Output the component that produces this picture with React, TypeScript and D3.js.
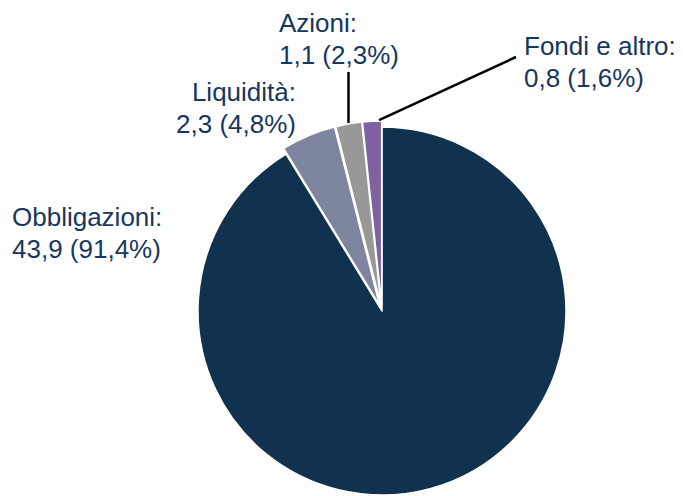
import React from 'react';
import * as d3 from 'd3';

// asset split, values in bn, shares in %
const names = ['Obbligazioni', 'Liquidità', 'Azioni', 'Fondi e altro'];
const values = [43.9, 2.3, 1.1, 0.8];
const shares = [91.4, 4.8, 2.3, 1.6];
const colors = ['#11324f', '#7e859f', '#989898', '#7f62a0'];

const W = 683;
const H = 496;
const cx = 382;
const cy = 311;
const R = 184;
const pull = 6; // small slices are pulled out a bit

const fmt = (v: number) => v.toFixed(1).replace('.', ',');

// where each label sits and how it is anchored
const labelPos = [
  { x: 12, y: 226, anchor: 'start' },
  { x: 296, y: 101, anchor: 'end' },
  { x: 279, y: 32, anchor: 'start' },
  { x: 524, y: 55, anchor: 'start' },
];

export default function App() {
  const pie = d3.pie<number>().sort(null).value(d => d);
  const arcs = pie(values);
  const arc = d3.arc<d3.PieArcDatum<number>>().innerRadius(0).outerRadius(R);

  const offset = (a: d3.PieArcDatum<number>, i: number) => {
    if (i === 0) return [0, 0];
    const m = (a.startAngle + a.endAngle) / 2;
    return [pull * Math.sin(m), -pull * Math.cos(m)];
  };

  const polar = (ang: number, r: number) => [cx + r * Math.sin(ang), cy - r * Math.cos(ang)];

  // leader lines for the two thin slices
  const az = arcs[2];
  const azStart = polar((az.startAngle + az.endAngle) / 2, R + pull + 1);
  const fo = arcs[3];
  const foStart = polar(fo.startAngle + 0.85 * (fo.endAngle - fo.startAngle), R + pull + 1);

  return (
    <svg width={W} height={H} style={{ position: 'absolute', left: 0, top: 0 }}
      fontFamily="'Liberation Sans', Arial, sans-serif">
      <g transform={`translate(${cx},${cy})`}>
        {arcs.map((a, i) => {
          const [dx, dy] = offset(a, i);
          return (
            <path key={i} d={arc(a) || ''} transform={`translate(${dx},${dy})`}
              fill={colors[i]} stroke="#fff" strokeWidth={1.5} strokeLinejoin="round" />
          );
        })}
      </g>
      <line x1={azStart[0]} y1={azStart[1]} x2={azStart[0]} y2={72} stroke="#000" strokeWidth={2.5} />
      <line x1={foStart[0]} y1={foStart[1]} x2={516} y2={57} stroke="#000" strokeWidth={2.5} />
      {names.map((n, i) => (
        <text key={n} x={labelPos[i].x} y={labelPos[i].y} textAnchor={labelPos[i].anchor}
          fontSize={26} fill="#17375e">
          <tspan x={labelPos[i].x}>{n}:</tspan>
          <tspan x={labelPos[i].x} dy={31.5}>{`${fmt(values[i])} (${fmt(shares[i])}%)`}</tspan>
        </text>
      ))}
    </svg>
  );
}
